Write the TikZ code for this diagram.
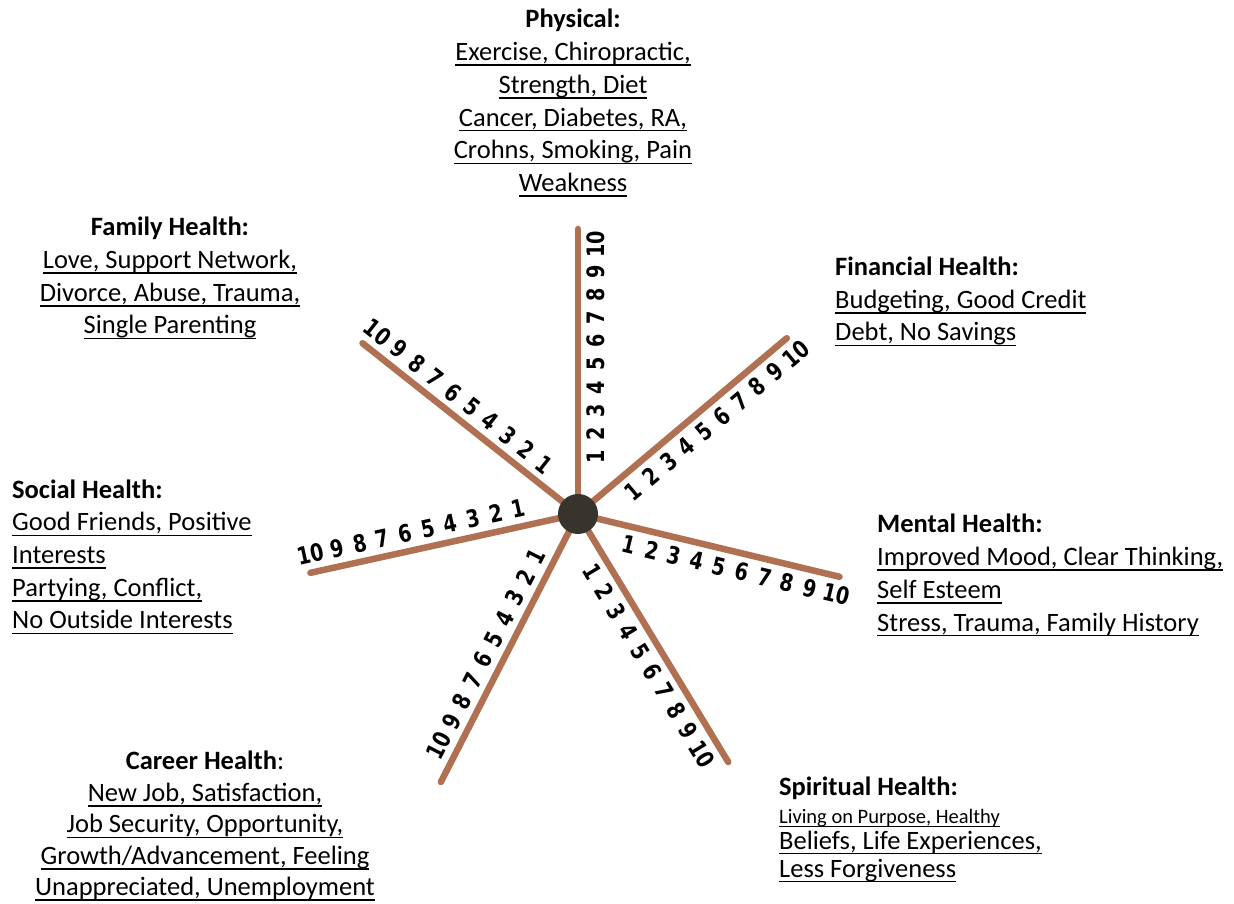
\documentclass[tikz,border=0pt]{standalone}
\usepackage{fontspec}
\setmainfont{Carlito}
\newfontfamily\digitfont{DejaVu Sans}[FakeStretch=0.8]
\usetikzlibrary{calc}
\definecolor{spoke}{RGB}{176,112,82}
\definecolor{hub}{RGB}{55,52,46}
\newcommand\uln[1]{\leavevmode\setbox0\hbox{#1}\rlap{\rule[-5.4pt]{\wd0}{1.6pt}}\box0}
\newcommand\ulsm[1]{\leavevmode\setbox0\hbox{#1}\rlap{\rule[-4.2pt]{\wd0}{1.3pt}}\box0}
\begin{document}
\begin{tikzpicture}[x=1pt,y=1pt,
  spokeline/.style={line width=6.5pt, color=spoke, line cap=round},
  digit/.style={font=\digitfont\bfseries\fontsize{24}{24}\selectfont, inner sep=0pt},
  block/.style={font=\fontsize{26.5}{32.7}\selectfont, inner sep=0pt},
  ]
\path[use as bounding box, fill=white] (0,0) rectangle (1234,903);
\coordinate (c) at (578,389);
\foreach \nm/\ang/\len/\rot in {up/90/285/90, ur/40.1/273/40.1, r/-13.5/269/-13.5, lr/-58.8/290/-58.8, ll/242.9/301/62.9, l/192.4/274/12.4, ul/141.6/275/-38.4}{
  \coordinate (e-\nm) at ($(c)+(\ang:\len)$);
  \draw[spokeline] (c) -- (e-\nm);
  \foreach \i in {1,...,10}{
    \node[digit, rotate=\rot] (d-\nm-\i) at ($(c)+(\ang:{57+(\i-1)*23.2+(\i==10)*4})+({\ang-90}:18)$) {\i};
  }
}
\node[circle, fill=hub, minimum size=40pt, inner sep=0pt] (hub) at (c) {};

\node[block, align=center, anchor=base] (phys) at (573,711.5) {\textbf{Physical:}\\ \uln{Exercise, Chiropractic,}\\ \uln{Strength, Diet}\\ \uln{Cancer, Diabetes, RA,}\\ \uln{Crohns, Smoking, Pain}\\ \uln{Weakness}};
\node[block, align=center, anchor=base] (fam) at (170,569) {\textbf{Family Health:}\\ \uln{Love, Support Network,}\\ \uln{Divorce, Abuse, Trauma,}\\ \uln{Single Parenting}};
\node[block, align=left, anchor=base west] (fin) at (835,562) {\textbf{Financial Health:}\\ \uln{Budgeting, Good Credit}\\ \uln{Debt, No Savings}};
\node[block, align=left, anchor=base west] (soc) at (12,274) {\textbf{Social Health:}\\ \uln{Good Friends, Positive}\\ \uln{Interests}\\ \uln{Partying, Conflict,}\\ \uln{No Outside Interests}};
\node[block, align=left, anchor=base west] (men) at (877,272) {\textbf{Mental Health:}\\ \uln{Improved Mood, Clear Thinking,}\\ \uln{Self Esteem}\\ \uln{Stress, Trauma, Family History}};
\node[block, font=\fontsize{26.5}{31.4}\selectfont, align=center, anchor=base] (car) at (205,7.5) {\textbf{Career Health}:\\ \uln{New Job, Satisfaction,}\\ \uln{Job Security, Opportunity,}\\ \uln{Growth/Advancement, Feeling}\\ \uln{Unappreciated, Unemployment}};
\node[block, align=left, anchor=base west] (spi) at (779,26) {\textbf{Spiritual Health:}\\[-4.7pt] {\fontsize{20.5}{24}\selectfont\ulsm{Living on Purpose, Healthy}}\\[-6.7pt] \uln{Beliefs, Life Experiences,}\\[-4.7pt] \uln{Less Forgiveness}};
\end{tikzpicture}
\end{document}
